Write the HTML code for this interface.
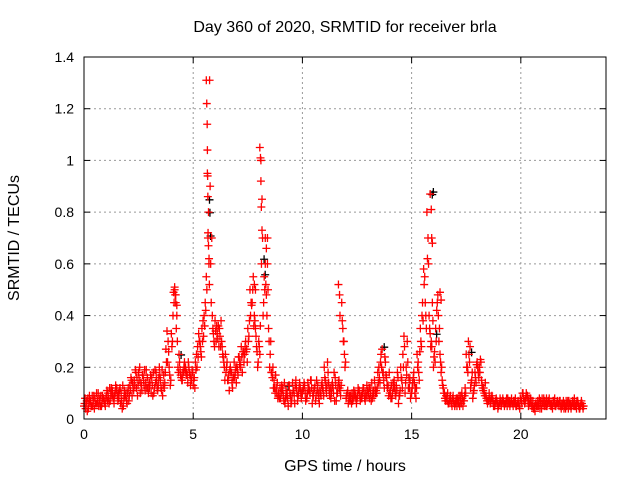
<!DOCTYPE html>
<html><head><meta charset="utf-8"><style>
body{margin:0;background:#fff}
svg{display:block;font-family:"Liberation Sans",sans-serif}
</style></head><body>
<svg id="chart" width="640" height="480">
<text x="345" y="32" font-size="16" text-anchor="middle">Day 360 of 2020, SRMTID for receiver brla</text>
<text x="345" y="471" font-size="16" text-anchor="middle">GPS time / hours</text>
<text transform="translate(19,238) rotate(-90)" font-size="16" text-anchor="middle">SRMTID / TECUs</text>
<g id="grid"></g><g id="axes"></g><g id="black"></g><g id="red"></g>
<rect x="84" y="57" width="522" height="362" fill="none" stroke="#000" stroke-width="1"/>
</svg>
<script>
const xTicks=[0,5,10,15,20];
const yTicks=[0,0.2,0.4,0.6,0.8,1,1.2,1.4];
const yTickLabels=["0","0.2","0.4","0.6","0.8","1","1.2","1.4"];
const seriesA=[.05,.06,.04,.07,.05,.08,.06,.07,.05,.08, .08,.10,.07,.11,.09,.12,.08,.10,.05,.09,
.10,.13,.09,.15,.12,.18,.14,.17,.11,.16, .12,.16,.10,.18,.13,.15,.09,.14,.34,.20,
.33,.49,.45,.20,.19,.15,.22,.18,.20,.16, .13,.22,.28,.30,.35,.40,.55,.80,.60,.35,
.38,.33,.35,.30,.22,.18,.15,.20,.12,.16, .20,.24,.28,.26,.30,.35,.50,.45,.40,.28,
.30,1.0,.40,.60,.70,.20,.18,.15,.12,.10, .08,.12,.06,.10,.13,.07,.11,.15,.09,.12,
.10,.13,.08,.12,.15,.09,.07,.13,.11,.14, .20,.10,.14,.08,.12,.16,.10,.12,.45,.30,
.08,.06,.09,.07,.10,.08,.11,.09,.12,.10, .09,.12,.08,.15,.10,.20,.25,.18,.22,.12,
.10,.08,.15,.13,.06,.20,.25,.10,.30,.12, .10,.18,.08,.22,.35,.45,.55,.80,.40,.30,
.20,.35,.48,.25,.15,.10,.08,.06,.07,.09, .06,.08,.05,.10,.07,.25,.30,.12,.08,.18,
.22,.20,.15,.12,.09,.07,.06,.08,.05,.07, .06,.05,.07,.06,.08,.05,.06,.07,.05,.06,
.08,.10,.07,.09,.06,.05,.04,.06,.05,.07, .06,.07,.05,.08,.06,.07,.05,.06,.07,.05,
.06,.05,.07,.04,.06,.05,.07,.04,.06];
const seriesB=[.08,.03,.09,.05,.09,.06,.10,.05,.09,.06, .11,.06,.12,.08,.13,.07,.12,.04,.11,.07,
.07,.16,.12,.19,.09,.20,.11,.13,.19,.10, .17,.09,.19,.12,.20,.11,.17,.27,.30,.13,
.30,.51,.40,.25,.16,.18,.20,.14,.17,.19, .16,.25,.33,.26,.38,.45,.95,1.31,.70,.30,
.30,.36,.28,.25,.15,.22,.11,.18,.16,.20, .17,.22,.18,.25,.27,.32,.45,.55,.35,.20,
.25,.85,.55,.48,.35,.30,.20,.10,.14,.08, .13,.07,.11,.05,.09,.14,.06,.10,.12,.08,
.12,.07,.14,.10,.06,.12,.15,.08,.09,.11, .15,.22,.09,.13,.18,.07,.14,.09,.35,.20,
.10,.09,.06,.11,.08,.12,.07,.10,.08,.13, .12,.07,.11,.10,.18,.14,.27,.12,.16,.09,
.08,.14,.10,.18,.09,.15,.32,.20,.12,.08, .14,.10,.25,.15,.28,.58,.40,.70,.33,.45,
.26,.42,.30,.18,.12,.07,.10,.08,.05,.06, .08,.06,.09,.05,.12,.20,.22,.15,.11,.14,
.18,.23,.12,.09,.07,.10,.08,.05,.07,.04, .08,.07,.05,.08,.06,.07,.05,.08,.06,.04,
.06,.07,.10,.05,.08,.07,.03,.05,.08,.04, .08,.05,.07,.06,.04,.08,.06,.05,.04,.07,
.04,.07,.05,.06,.08,.04,.05,.06,.04];
const seriesC=[.06,.07,.06,.05,.07,.06,.07,.08,.06,.07, .09,.08,.10,.09,.10,.09,.11,.07,.08,.10,
.12,.11,.14,.13,.16,.15,.13,.15,.14,.12, .14,.13,.12,.15,.16,.12,.13,.18,.22,.17,
.28,.45,.35,.18,.17,.18,.19,.17,.18,.15, .15,.19,.24,.28,.30,.36,.50,.62,.45,.33,
.34,.31,.32,.28,.20,.20,.17,.18,.16,.18, .19,.21,.24,.22,.26,.30,.40,.50,.38,.26,
.28,.60,.45,.52,.50,.25,.16,.12,.10,.09, .10,.09,.08,.08,.10,.09,.09,.12,.10,.10,
.11,.10,.10,.11,.12,.11,.09,.10,.10,.12, .16,.13,.11,.10,.10,.13,.12,.11,.38,.25,
.09,.08,.08,.08,.09,.09,.09,.08,.10,.09, .10,.10,.10,.12,.12,.16,.20,.15,.17,.13,
.11,.10,.12,.11,.09,.16,.20,.14,.22,.15, .12,.14,.12,.18,.30,.38,.45,.62,.35,.28,
.24,.30,.40,.22,.13,.08,.07,.07,.06,.07, .07,.07,.07,.08,.09,.20,.25,.14,.10,.16,
.20,.18,.13,.10,.08,.07,.07,.07,.06,.06, .06,.06,.06,.07,.07,.06,.06,.06,.06,.05,
.07,.08,.08,.07,.06,.05,.05,.05,.06,.06, .06,.06,.06,.06,.05,.06,.06,.06,.05,.06,
.05,.06,.06,.05,.05,.06,.06,.05,.05];
const seriesD=[.04,.08,.07,.09,.04,.10,.05,.09,.08,.05, .07,.12,.09,.06,.11,.10,.06,.13,.09,.06,
.09,.15,.11,.18,.13,.10,.17,.19,.12,.14, .10,.18,.14,.11,.17,.19,.12,.22,.26,.15,
.40,.48,.30,.22,.15,.20,.17,.22,.13,.18, .12,.20,.30,.24,.32,.42,.70,.90,.40,.28,
.36,.28,.38,.24,.25,.15,.19,.14,.22,.14, .24,.20,.26,.28,.22,.38,.44,.36,.32,.22,
.36,.70,.50,.40,.30,.18,.12,.17,.08,.12, .11,.14,.09,.13,.06,.11,.13,.07,.14,.10,
.14,.08,.11,.15,.09,.13,.11,.06,.13,.09, .12,.18,.12,.14,.07,.10,.15,.13,.30,.22,
.11,.07,.10,.09,.06,.11,.08,.12,.07,.11, .08,.14,.09,.11,.14,.22,.18,.24,.13,.18,
.13,.12,.09,.16,.11,.12,.28,.17,.16,.10, .16,.12,.20,.26,.40,.52,.35,.60,.28,.38,
.22,.45,.35,.20,.10,.09,.06,.09,.08,.05, .05,.09,.06,.07,.10,.18,.28,.18,.13,.21,
.16,.22,.11,.14,.06,.08,.09,.06,.08,.05, .07,.08,.06,.05,.07,.08,.07,.05,.07,.08,
.10,.06,.09,.08,.07,.04,.06,.07,.04,.08, .05,.08,.07,.05,.07,.05,.07,.07,.06,.04,
.07,.04,.06,.07,.05,.07,.04,.07,.05];
const spikeTimes=[5.6,5.62,5.64,5.65,5.66,5.67,5.68,5.7,5.72,5.74,8.05,8.08,8.1,8.12,8.15,8.3,8.35,8.4,11.65,11.7,11.72,15.85,15.9,15.92,15.95,4.15,4.2,4.25,7.8,7.85,16.3,16.35];
const spikeValues=[1.31,1.22,1.14,1.04,.94,.86,.72,.67,.60,.52,1.05,1.01,.92,.82,.73,.70,.66,.60,.52,.48,.40,.87,.81,.70,.68,.50,.48,.44,.52,.50,.49,.46];
const blackTimes=[5.7,5.72,5.75,8.2,8.25,15.95,15.9,13.7,16.1,17.7,4.4,9.3];
const blackValues=[.84,.79,.70,.61,.55,.87,.86,.27,.32,.25,.24,.12];
const NS='http://www.w3.org/2000/svg';
const X0=84,X1=606,Y0=419,Y1=57;
const xs=t=>X0+t*(X1-X0)/23.9;
const ys=v=>Y0-v*(Y0-Y1)/1.4;
const grid=document.getElementById('grid'),axes=document.getElementById('axes');
function mk(tag,attrs,parent){const e=document.createElementNS(NS,tag);for(const k in attrs)e.setAttribute(k,attrs[k]);parent.appendChild(e);return e;}
xTicks.forEach(t=>{const x=xs(t);
 if(t>0){const g=mk('line',{x1:x,x2:x,y1:Y0,y2:Y1,stroke:'#999','stroke-dasharray':'2,3'},grid);
 
 }
 mk('line',{x1:x,x2:x,y1:Y0,y2:Y0-6,stroke:'#000'},axes);
 mk('line',{x1:x,x2:x,y1:Y1,y2:Y1+6,stroke:'#000'},axes);
 const l=mk('text',{x:x,y:Y0+20,'font-size':14,'text-anchor':'middle'},axes);l.textContent=t;
 
 });
yTicks.forEach((v,i)=>{const y=ys(v);
 if(v>0&&v<1.4){const g=mk('line',{x1:X0,x2:X1,y1:y,y2:y,stroke:'#999','stroke-dasharray':'2,3'},grid);
 
 }
 mk('line',{x1:X0,x2:X0+6,y1:y,y2:y,stroke:'#000'},axes);
 mk('line',{x1:X1,x2:X1-6,y1:y,y2:y,stroke:'#000'},axes);
 const l=mk('text',{x:X0-10,y:y+5,'font-size':14,'text-anchor':'end'},axes);l.textContent=yTickLabels[i];
 
 });
function plus(x,y,col,parent){return mk('path',{d:`M${x-4},${y}h8M${x},${y-4}v8`,stroke:col,'stroke-width':1.3,fill:'none'},parent);}
const red=document.getElementById('red'),black=document.getElementById('black');
blackTimes.forEach((t,i)=>{const p=plus(xs(t)+1,ys(blackValues[i])-2,'#000',black);
 
 });
[[seriesA,0],[seriesB,0.05],[seriesC,0.025],[seriesD,0.075]].forEach(([arr,off])=>{
 arr.forEach((v,i)=>{const p=plus(xs(i*0.1+off),ys(v),'#f00',red);
 
 });});
spikeTimes.forEach((t,i)=>{const p=plus(xs(t),ys(spikeValues[i]),'#f00',red);
 
 });
</script>
</body></html>
